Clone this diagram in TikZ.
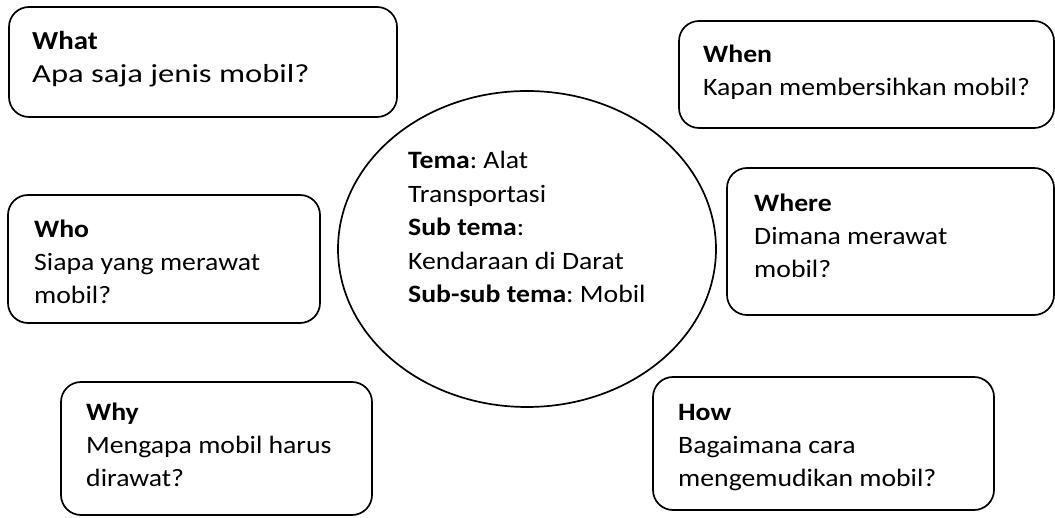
\documentclass[tikz,border=0pt]{standalone}
\usepackage{fontspec}
\usepackage{graphicx}
\setmainfont{Carlito}[FakeStretch=1.11]
\usetikzlibrary{shapes.geometric}
\frenchspacing
\tikzset{
  qbox/.style={draw=black, line width=1.7pt, rounded corners=20pt, inner sep=0pt},
  qtext/.style={anchor=base west, align=left, inner sep=0pt, font=\fontsize{25}{33}\selectfont},
  hub/.style={draw=black, line width=1.7pt, ellipse, inner sep=0pt}
}
\begin{document}
\begin{tikzpicture}[x=1pt,y=1pt]
\useasboundingbox (0,0) rectangle (1055,517);
% boxes
\node[qbox, minimum width=388pt, minimum height=110pt] (what) at (203,455) {};
\node[qbox, minimum width=375pt, minimum height=107pt] (when) at (866.5,442.5) {};
\node[qbox, minimum width=312pt, minimum height=128pt] (who) at (164,258) {};
\node[qbox, minimum width=327pt, minimum height=147pt] (where) at (890.5,275.5) {};
\node[qbox, minimum width=311pt, minimum height=133pt] (why) at (216.5,68.5) {};
\node[qbox, minimum width=341pt, minimum height=133pt] (how) at (823.5,73.5) {};
\node[hub, minimum width=378pt, minimum height=316pt] (theme) at (527,268) {};
% texts (anchor = baseline of the last line)
\node[qtext, font=\fontsize{26}{33}\selectfont] (whatt) at (32,434) {\textbf{What}\\\scalebox{1.13}[1]{Apa saja jenis mobil?}};
\node[qtext] (whent) at (703,421) {\textbf{When}\\Kapan membersihkan mobil?};
\node[qtext] (whot) at (34,213) {\textbf{Who}\\Siapa yang merawat\\mobil?};
\node[qtext] (wheret) at (754,239) {\textbf{Where}\\Dimana merawat\\mobil?};
\node[qtext] (whyt) at (86,31) {\textbf{Why}\\Mengapa mobil harus\\dirawat?};
\node[qtext] (howt) at (678,31) {\textbf{How}\\Bagaimana cara\\mengemudikan mobil?};
\node[qtext, font=\fontsize{25}{33.5}\selectfont] (themet) at (408,214) {\textbf{Tema}: Alat\\Transportasi\\\textbf{Sub tema}:\\Kendaraan di Darat\\\textbf{Sub-sub tema}: Mobil};
\end{tikzpicture}
\end{document}
